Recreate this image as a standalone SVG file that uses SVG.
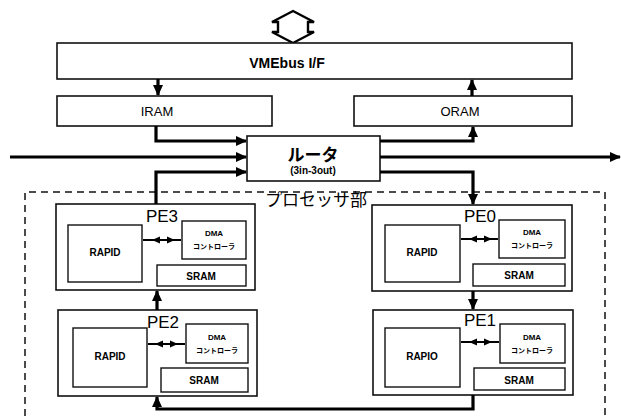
<svg xmlns="http://www.w3.org/2000/svg" width="621" height="416" viewBox="0 0 621 416">
<style>
.box{fill:#fff;stroke:#111;stroke-width:1.6}
.inner{fill:#fff;stroke:#111;stroke-width:1.4}
.conn{fill:none;stroke:#000;stroke-width:3.2}
.thin{fill:none;stroke:#000;stroke-width:2}
.head{fill:#000}
.t{font-family:"Liberation Sans",Arial,sans-serif;fill:#000;text-anchor:middle}
.jp{font-family:"Noto Sans CJK JP","Liberation Sans",sans-serif;fill:#000;text-anchor:middle}
.dash{fill:none;stroke:#111;stroke-width:1.5;stroke-dasharray:7,5}
</style>
<defs>
<marker id="ah" markerUnits="userSpaceOnUse" markerWidth="11" markerHeight="10" refX="10" refY="5" orient="auto" viewBox="0 0 11 10">
<path d="M0,0 L11,5 L0,10 z" fill="#000"/>
</marker>
<path id="lr" d="M0,0 L8,-3.5 L8,3.5 Z M23,0 L15,-3.5 L15,3.5 Z"/>
</defs>
<rect width="621" height="416" fill="#fff"/>

<g id="bus-arrow">
<path d="M293,11 L314,22 L308,22 L308,32 L314,32 L293,43 L272,32 L278,32 L278,22 L272,22 Z" fill="#fff" stroke="#000" stroke-width="2.4" stroke-linejoin="miter"/>
</g>

<g id="vmebus">
<rect class="box" x="57" y="43" width="515" height="36"/>
<text class="t" x="287" y="68" font-size="14" font-weight="bold">VMEbus I/F</text>
</g>

<g id="iram">
<rect class="box" x="57" y="96" width="215" height="30"/>
<text class="t" x="157" y="116" font-size="13">IRAM</text>
</g>

<g id="oram">
<rect class="box" x="354" y="96" width="218" height="30"/>
<text class="t" x="460" y="116" font-size="13">ORAM</text>
</g>

<g id="router">
<rect class="box" x="247" y="136" width="133" height="45"/>
<text class="jp" x="313" y="161" font-size="17" font-weight="bold">ルータ</text>
<text class="t" x="313" y="174" font-size="10" font-weight="bold">(3in-3out)</text>
</g>

<g id="processor-area">
<path class="dash" d="M25,416 V192 H605 V416"/>
<text class="jp" x="316" y="206" font-size="17">プロセッサ部</text>
</g>

<g id="pe3">
<rect class="box" x="56" y="204" width="199" height="86"/>
<text class="t" x="162" y="222" font-size="17">PE3</text>
<rect class="inner" x="68" y="225" width="74" height="57"/>
<text class="t" x="105" y="256" font-size="10" font-weight="bold">RAPID</text>
<rect class="inner" x="182" y="221" width="64" height="38"/>
<text class="t" x="214" y="236" font-size="8" font-weight="bold">DMA</text>
<text class="jp" x="214" y="249" font-size="7" font-weight="bold">コントローラ</text>
<rect class="inner" x="157" y="265" width="89" height="21"/>
<text class="t" x="201" y="280" font-size="10" font-weight="bold">SRAM</text>
<path class="thin" d="M143,240 H181"/>
<use href="#lr" class="head" x="152" y="240"/>
</g>

<g id="pe0">
<rect class="box" x="372" y="205" width="200" height="86"/>
<text class="t" x="480" y="222" font-size="17">PE0</text>
<rect class="inner" x="385" y="225" width="75" height="57"/>
<text class="t" x="422" y="256" font-size="10" font-weight="bold">RAPID</text>
<rect class="inner" x="499" y="220" width="66" height="38"/>
<text class="t" x="532" y="235" font-size="8" font-weight="bold">DMA</text>
<text class="jp" x="532" y="248" font-size="7" font-weight="bold">コントローラ</text>
<rect class="inner" x="473" y="264" width="92" height="22"/>
<text class="t" x="519" y="279" font-size="10" font-weight="bold">SRAM</text>
<path class="thin" d="M461,239 H498"/>
<use href="#lr" class="head" x="469" y="239"/>
</g>

<g id="pe2">
<rect class="box" x="58" y="310" width="199" height="86"/>
<text class="t" x="163" y="328" font-size="17">PE2</text>
<rect class="inner" x="73" y="328" width="74" height="59"/>
<text class="t" x="110" y="360" font-size="10" font-weight="bold">RAPID</text>
<rect class="inner" x="186" y="324" width="62" height="39"/>
<text class="t" x="217" y="340" font-size="8" font-weight="bold">DMA</text>
<text class="jp" x="217" y="353" font-size="7" font-weight="bold">コントローラ</text>
<rect class="inner" x="161" y="368" width="87" height="24"/>
<text class="t" x="204" y="384" font-size="10" font-weight="bold">SRAM</text>
<path class="thin" d="M148,344 H185"/>
<use href="#lr" class="head" x="155" y="344"/>
</g>

<g id="pe1">
<rect class="box" x="373" y="310" width="200" height="85"/>
<text class="t" x="480" y="326" font-size="17">PE1</text>
<rect class="inner" x="385" y="328" width="75" height="59"/>
<text class="t" x="422" y="360" font-size="10" font-weight="bold">RAPIO</text>
<rect class="inner" x="500" y="324" width="65" height="39"/>
<text class="t" x="532" y="340" font-size="8" font-weight="bold">DMA</text>
<text class="jp" x="532" y="353" font-size="7" font-weight="bold">コントローラ</text>
<rect class="inner" x="474" y="368" width="91" height="22"/>
<text class="t" x="519" y="384" font-size="10" font-weight="bold">SRAM</text>
<path class="thin" d="M461,342 H499"/>
<use href="#lr" class="head" x="469" y="342"/>
</g>

<g id="connectors">
<path class="conn" d="M158,79 V95" marker-end="url(#ah)"/>
<path class="conn" d="M472,96 V80" marker-end="url(#ah)"/>
<path class="conn" d="M156,126 V141 H246" marker-end="url(#ah)"/>
<path class="conn" d="M10,157 H246" marker-end="url(#ah)"/>
<path class="conn" d="M156,204 V172 H246" marker-end="url(#ah)"/>
<path class="conn" d="M380,141 H473 V127" marker-end="url(#ah)"/>
<path class="conn" d="M380,157 H620" marker-end="url(#ah)"/>
<path class="conn" d="M380,172 H473 V204" marker-end="url(#ah)"/>
<path class="conn" d="M473,291 V309" marker-end="url(#ah)"/>
<path class="conn" d="M157,310 V291" marker-end="url(#ah)"/>
<path class="conn" d="M473,395 V409 H157 V397" marker-end="url(#ah)"/>
</g>
</svg>
